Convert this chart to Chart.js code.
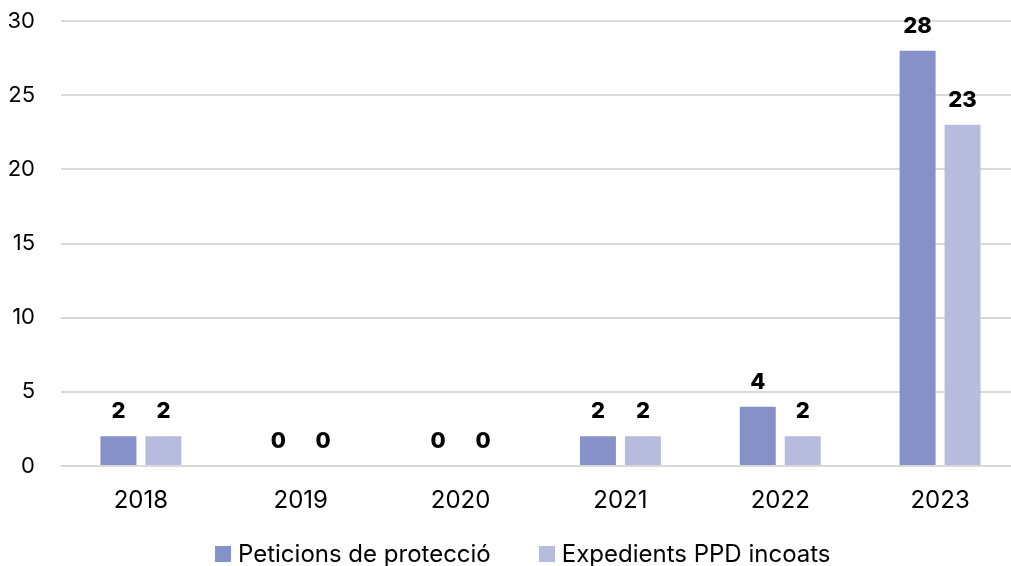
<!DOCTYPE html>
<html>
<head>
<meta charset="utf-8">
<script src="https://cdn.jsdelivr.net/npm/chart.js@4"></script>
<style>
    html, body { margin: 0; padding: 0; background: #fff; overflow: hidden; }
    #wrap { position: relative; width: 1020px; height: 566px; }
    #llegenda {
        position: absolute; left: 215px; top: 539px;
        display: flex; align-items: center;
        font-family: Inter, "Open Sans", sans-serif; font-size: 24px; color: #000;
        white-space: nowrap;
    }
    #llegenda .item { display: flex; align-items: center; margin-right: 48px; }
    #llegenda .caixa { width: 16px; height: 16px; margin-right: 7px; }
</style>
</head>
<body>
<div id="wrap">
    <canvas id="grafic"></canvas>
    <div id="llegenda"></div>
</div>
<script>
// Dades llegides del gràfic
const anys = ['2018', '2019', '2020', '2021', '2022', '2023'];
const peticions = [2, 0, 0, 2, 4, 28];
const expedients = [2, 0, 0, 2, 2, 23];
const ticksY = [0, 5, 10, 15, 20, 25, 30];
const noms = ['Peticions de protecció', 'Expedients PPD incoats'];
const colors = ['#8690c9', '#b7bbdd'];

const FONT = 'Inter, "Open Sans", sans-serif';

// Etiquetes de valor damunt de cada barra
const valorsPlugin = {
    id: 'valors',
    afterDatasetsDraw(chart) {
        const ctx = chart.ctx;
        ctx.save();
        ctx.font = '800 22px ' + FONT;
        ctx.fillStyle = '#000';
        ctx.textAlign = 'center';
        ctx.textBaseline = 'alphabetic';
        chart.data.datasets.forEach((ds, i) => {
            const meta = chart.getDatasetMeta(i);
            meta.data.forEach((bar, j) => {
                ctx.fillText(String(ds.data[j]), bar.x, bar.y - 18);
            });
        });
        ctx.restore();
    }
};

const grafic = new Chart(document.getElementById('grafic'), {
    type: 'bar',
    data: {
        labels: anys,
        datasets: [
            {
                label: noms[0],
                data: peticions,
                backgroundColor: colors[0],
                barPercentage: 0.8,
                categoryPercentage: 0.5625
            },
            {
                label: noms[1],
                data: expedients,
                backgroundColor: colors[1],
                barPercentage: 0.8,
                categoryPercentage: 0.5625
            }
        ]
    },
    options: {
        responsive: true,
        maintainAspectRatio: false,
        animation: false,
        layout: {
            autoPadding: false,
            padding: { top: 21, left: 8, right: 0, bottom: 51 }
        },
        plugins: {
            legend: { display: false },
            tooltip: { enabled: false }
        },
        scales: {
            x: {
                grid: { display: false, drawTicks: false },
                border: { display: false },
                ticks: {
                    font: { family: FONT, size: 24 },
                    color: '#000',
                    padding: 20
                },
                afterFit(scale) {
                    scale.height = 49;
                    scale.paddingLeft = 0;
                    scale.paddingRight = 0;
                }
            },
            y: {
                min: 0,
                max: 30,
                afterBuildTicks(axis) {
                    axis.ticks = ticksY.map(v => ({ value: v }));
                },
                grid: { color: '#d9d9d9', lineWidth: 2, drawTicks: false },
                border: { display: false },
                ticks: {
                    font: { family: FONT, size: 22 },
                    color: '#000',
                    padding: 26
                },
                afterFit(scale) {
                    scale.width = 53;
                    scale.paddingTop = 0;
                    scale.paddingBottom = 0;
                }
            }
        }
    },
    plugins: [valorsPlugin]
});

// Llegenda en HTML a partir dels datasets
const llegenda = document.getElementById('llegenda');
grafic.data.datasets.forEach(ds => {
    const item = document.createElement('div');
    item.className = 'item';
    const caixa = document.createElement('span');
    caixa.className = 'caixa';
    caixa.style.background = ds.backgroundColor;
    const text = document.createElement('span');
    text.textContent = ds.label;
    item.appendChild(caixa);
    item.appendChild(text);
    llegenda.appendChild(item);
});
</script>
</body>
</html>
